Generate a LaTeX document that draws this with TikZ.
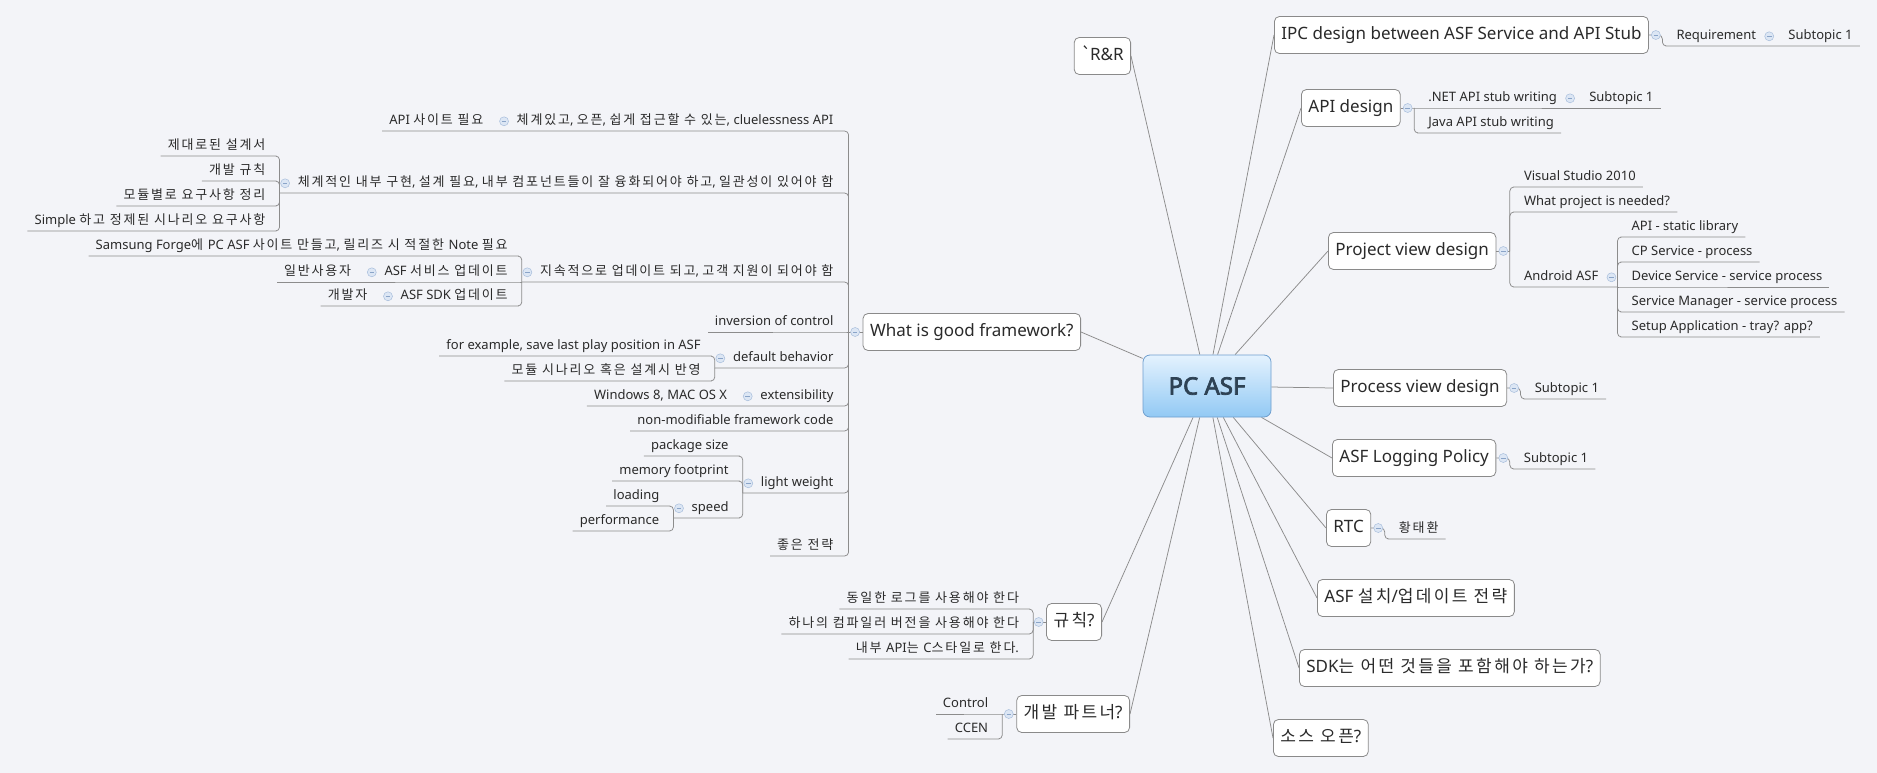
\documentclass[tikz,border=0pt]{standalone}
\usepackage{fontspec}
\setmainfont{Noto Sans CJK KR}
\newfontfamily\lafont{Noto Sans}[AutoFakeBold=3]
\newfontfamily\krfont{Noto Sans CJK KR}[LetterSpace=14]
% hangul in the CJK face, latin runs in Noto Sans
\newXeTeXintercharclass\krclass
\count255="AC00
\loop
    \XeTeXcharclass\count255=\krclass
    \ifnum\count255<"D7A3
    \advance\count255 by 1
\repeat
\XeTeXinterchartoks 0 \krclass = {\krfont}
\XeTeXinterchartoks 4095 \krclass = {\krfont}
\XeTeXinterchartoks \krclass 0 = {\lafont}
\XeTeXinterchartoks 4095 0 = {\lafont}
\XeTeXinterchartokenstate=1

\definecolor{bgcol}{HTML}{F3F4F8}
\definecolor{wirecol}{HTML}{8C8C8C}
\definecolor{boxline}{HTML}{8A8A8A}
\definecolor{txt}{HTML}{2A2A2A}
\definecolor{togfill}{HTML}{DCE6F4}
\definecolor{togline}{HTML}{A8BEDC}
\definecolor{togdash}{HTML}{8AA4C8}
\definecolor{pctop}{HTML}{E4F2FE}
\definecolor{pcbot}{HTML}{92C9F4}
\definecolor{pcline}{HTML}{6E9ECE}
\definecolor{pctext}{HTML}{2E4254}

\pgfdeclarelayer{bg}
\pgfdeclarelayer{wires}
\pgfsetlayers{bg,wires,main}

\tikzset{
    central/.style={draw=pcline, line width=0.8pt, rounded corners=7pt, top color=pctop, bottom color=pcbot,
        minimum width=128pt, minimum height=62pt, font=\fontsize{24}{28}\selectfont\bfseries, text=pctext},
    topic/.style={draw=boxline, fill=white, line width=0.8pt, rounded corners=5pt, minimum height=37pt,
        inner xsep=7pt, text height=12.5pt, text depth=3.5pt, font=\fontsize{17}{20}\selectfont, text=txt},
    leaf/.style={inner xsep=7pt, inner ysep=3pt, text height=10pt, text depth=3pt,
        font=\fontsize{13}{15}\selectfont, text=txt},
    leafr/.style={leaf, anchor=south west},
    leafl/.style={leaf, anchor=south east},
    fold/.style={circle, draw=togline, fill=togfill, line width=0.5pt, minimum size=9pt, inner sep=0pt,
        path picture={\draw[togdash, line width=0.7pt] ([xshift=-2.3pt]path picture bounding box.center)
            -- ([xshift=2.3pt]path picture bounding box.center);}},
    link/.style={draw=wirecol, line width=0.75pt},
    branch/.style={draw=wirecol, line width=0.75pt, rounded corners=4pt},
}

\begin{document}
\begin{tikzpicture}[x=1pt, y=-1pt]
    \useasboundingbox (0,0) rectangle (1877,773);
    \begin{pgfonlayer}{bg}
        \fill[bgcol] (0,0) rectangle (1877,773);
    \end{pgfonlayer}

    \node[central] (pc) at (1207,386) {PC ASF};

    % topics on the right
    \node[topic, anchor=west] (ipc) at (1274,35) {IPC design between ASF Service and API Stub};
    \node[topic, anchor=west] (api) at (1301,108) {API design};
    \node[topic, anchor=west] (pvd) at (1328,251) {Project view design};
    \node[topic, anchor=west] (proc) at (1333,388) {Process view design};
    \node[topic, anchor=west] (logp) at (1332,458) {ASF Logging Policy};
    \node[topic, anchor=west] (rtc) at (1326,528) {RTC};
    \node[topic, anchor=west] (inst) at (1317,598) {ASF 설치/업데이트 전략};
    \node[topic, anchor=west] (sdk) at (1299,668) {SDK는 어떤 것들을 포함해야 하는가?};
    \node[topic, anchor=west] (src) at (1273,738) {소스 오픈?};

    % topics on the left
    \node[topic, anchor=east] (rr) at (1131,56) {\textasciigrave\kern-1.5pt R\&R};
    \node[topic, anchor=east] (frame) at (1081,332) {What is good framework?};
    \node[topic, anchor=east] (rule) at (1102,622) {규칙?};
    \node[topic, anchor=east] (partner) at (1130,714) {개발 파트너?};

    \node[fold] (foldipc) at ([xshift=7pt]ipc.east) {};
    \coordinate (forkipc) at ([xshift=13.5pt]ipc.east);
    \node[fold] (foldapi) at ([xshift=7pt]api.east) {};
    \coordinate (forkapi) at ([xshift=13.5pt]api.east);
    \node[fold] (foldpvd) at ([xshift=7pt]pvd.east) {};
    \coordinate (forkpvd) at ([xshift=13.5pt]pvd.east);
    \node[fold] (foldproc) at ([xshift=7pt]proc.east) {};
    \coordinate (forkproc) at ([xshift=13.5pt]proc.east);
    \node[fold] (foldlogp) at ([xshift=7pt]logp.east) {};
    \coordinate (forklogp) at ([xshift=13.5pt]logp.east);
    \node[fold] (foldrtc) at ([xshift=7pt]rtc.east) {};
    \coordinate (forkrtc) at ([xshift=13.5pt]rtc.east);
    \node[fold] (foldframe) at ([xshift=-7.5pt]frame.west) {};
    \coordinate (forkframe) at ([xshift=-14pt]frame.west);
    \node[fold] (foldrule) at ([xshift=-7.5pt]rule.west) {};
    \coordinate (forkrule) at ([xshift=-13pt]rule.west);
    \node[fold] (foldpartner) at ([xshift=-7.5pt]partner.west) {};
    \coordinate (forkpartner) at ([xshift=-14pt]partner.west);

    % IPC / API
    \node[leafr] (req) at ([xshift=7pt]forkipc |- 0,46) {Requirement};
    \node[fold] (foldreq) at ([xshift=6pt]req.east) {};
    \node[leafr] (ipcsub) at ([xshift=18pt]req.south east) {Subtopic 1};
    \node[leafr] (dotnet) at ([xshift=7pt]forkapi |- 0,108) {.NET API stub writing};
    \node[fold] (folddotnet) at ([xshift=6pt]dotnet.east) {};
    \node[leafr] (dotnetsub) at ([xshift=18pt]dotnet.south east) {Subtopic 1};
    \node[leafr] (java) at ([xshift=7pt]forkapi |- 0,133) {Java API stub writing};

    % project view
    \node[leafr] (vs) at ([xshift=7pt]forkpvd |- 0,187) {Visual Studio 2010};
    \node[leafr] (needed) at ([xshift=7pt]forkpvd |- 0,212) {What project is needed?};
    \node[leafr] (android) at ([xshift=7pt]forkpvd |- 0,287) {Android ASF};
    \node[fold] (foldandroid) at ([xshift=6pt]android.east) {};
    \coordinate (forkandroid) at ([xshift=12pt]android.south east);
    \node[leafr] (staticlib) at ([xshift=7pt]forkandroid |- 0,237) {API - static library};
    \node[leafr] (cpsvc) at ([xshift=7pt]forkandroid |- 0,262) {CP Service - process};
    \node[leafr] (devsvc) at ([xshift=7pt]forkandroid |- 0,287) {Device Service - service process};
    \node[leafr] (svcmgr) at ([xshift=7pt]forkandroid |- 0,312) {Service Manager - service process};
    \node[leafr] (setupapp) at ([xshift=7pt]forkandroid |- 0,337) {Setup Application - tray? app?};

    \node[leafr] (procsub) at ([xshift=7pt]forkproc |- 0,399) {Subtopic 1};
    \node[leafr] (logsub) at ([xshift=7pt]forklogp |- 0,469) {Subtopic 1};
    \node[leafr] (rtcsub) at ([xshift=7pt]forkrtc |- 0,539) {황태환};

    % what is good framework?
    \node[leafl] (clue) at ([xshift=-8pt]forkframe |- 0,131) {체계있고, 오픈, 쉽게 접근할 수 있는, cluelessness API};
    \node[fold] (foldclue) at ([xshift=-5.5pt]clue.west) {};
    \node[leafl] (apisite) at ([xshift=-19pt]clue.south west) {API 사이트 필요};
    \node[leafl] (sys) at ([xshift=-8pt]forkframe |- 0,193) {체계적인 내부 구현, 설계 필요, 내부 컴포넌트들이 잘 융화되어야 하고, 일관성이 있어야 함};
    \node[fold] (foldsys) at ([xshift=-5.5pt]sys.west) {};
    \coordinate (forksys) at ([xshift=-11pt]sys.south west);
    \node[leafl] (rdoc) at ([xshift=-7pt]forksys |- 0,156) {제대로된 설계서};
    \node[leafl] (drule) at ([xshift=-7pt]forksys |- 0,181) {개발 규칙};
    \node[leafl] (modreq) at ([xshift=-7pt]forksys |- 0,206) {모듈별로 요구사항 정리};
    \node[leafl] (simple) at ([xshift=-7pt]forksys |- 0,231) {Simple 하고 정제된 시나리오 요구사항};
    \node[leafl] (upd) at ([xshift=-8pt]forkframe |- 0,282) {지속적으로 업데이트 되고, 고객 지원이 되어야 함};
    \node[fold] (foldupd) at ([xshift=-5.5pt]upd.west) {};
    \coordinate (forkupd) at ([xshift=-11pt]upd.south west);
    \node[leafl] (forge) at ([xshift=-7pt]forkupd |- 0,256) {Samsung Forge에 PC ASF 사이트 만들고, 릴리즈 시 적절한 Note 필요};
    \node[leafl] (svcupd) at ([xshift=-7pt]forkupd |- 0,282) {ASF 서비스 업데이트};
    \node[fold] (foldsvcupd) at ([xshift=-5.5pt]svcupd.west) {};
    \node[leafl] (enduser) at ([xshift=-19pt]svcupd.south west) {일반사용자};
    \node[leafl] (sdkupd) at ([xshift=-7pt]forkupd |- 0,306) {ASF SDK 업데이트};
    \node[fold] (foldsdkupd) at ([xshift=-5.5pt]sdkupd.west) {};
    \node[leafl] (developer) at ([xshift=-19pt]sdkupd.south west) {개발자};
    \node[leafl] (ioc) at ([xshift=-8pt]forkframe |- 0,332) {inversion of control};
    \node[leafl] (defb) at ([xshift=-8pt]forkframe |- 0,368) {default behavior};
    \node[fold] (folddefb) at ([xshift=-5.5pt]defb.west) {};
    \coordinate (forkdefb) at ([xshift=-11pt]defb.south west);
    \node[leafl] (fex) at ([xshift=-7pt]forkdefb |- 0,356) {for example, save last play position in ASF};
    \node[leafl] (modsc) at ([xshift=-7pt]forkdefb |- 0,381) {모듈 시나리오 혹은 설계시 반영};
    \node[leafl] (ext) at ([xshift=-8pt]forkframe |- 0,406) {extensibility};
    \node[fold] (foldext) at ([xshift=-5.5pt]ext.west) {};
    \node[leafl] (win) at ([xshift=-19pt]ext.south west) {Windows 8, MAC OS X};
    \node[leafl] (nonmod) at ([xshift=-8pt]forkframe |- 0,431) {non-modifiable framework code};
    \node[leafl] (lw) at ([xshift=-8pt]forkframe |- 0,493) {light weight};
    \node[fold] (foldlw) at ([xshift=-5.5pt]lw.west) {};
    \coordinate (forklw) at ([xshift=-11pt]lw.south west);
    \node[leafl] (pkg) at ([xshift=-7pt]forklw |- 0,456) {package size};
    \node[leafl] (mem) at ([xshift=-7pt]forklw |- 0,481) {memory footprint};
    \node[leafl] (spd) at ([xshift=-7pt]forklw |- 0,518) {speed};
    \node[fold] (foldspd) at ([xshift=-5.5pt]spd.west) {};
    \coordinate (forkspd) at ([xshift=-11pt]spd.south west);
    \node[leafl] (load) at ([xshift=-7pt]forkspd |- 0,506) {loading};
    \node[leafl] (perf) at ([xshift=-7pt]forkspd |- 0,531) {performance};
    \node[leafl] (good) at ([xshift=-8pt]forkframe |- 0,556) {좋은 전략};

    % rules and partners
    \node[leafl] (samelog) at ([xshift=-7pt]forkrule |- 0,609) {동일한 로그를 사용해야 한다};
    \node[leafl] (onecomp) at ([xshift=-7pt]forkrule |- 0,634) {하나의 컴파일러 버전을 사용해야 한다};
    \node[leafl] (capi) at ([xshift=-7pt]forkrule |- 0,659) {내부 API는 C스타일로 한다.};
    \node[leafl] (ctrl) at ([xshift=-7pt]forkpartner |- 0,714) {Control};
    \node[leafl] (ccen) at ([xshift=-7pt]forkpartner |- 0,739) {CCEN};

    \begin{pgfonlayer}{wires}
        \draw[link] (pc) -- (ipc.west);
        \draw[link] (pc) -- (api.west);
        \draw[link] (pc) -- (pvd.west);
        \draw[link] (pc) -- (proc.west);
        \draw[link] (pc) -- (logp.west);
        \draw[link] (pc) -- (rtc.west);
        \draw[link] (pc) -- (inst.west);
        \draw[link] (pc) -- (sdk.west);
        \draw[link] (pc) -- (src.west);
        \draw[link] (pc) -- (rr.east);
        \draw[link] (pc) -- (frame.east);
        \draw[link] (pc) -- (rule.east);
        \draw[link] (pc) -- (partner.east);

        \draw[branch] (ipc.east) -- (forkipc) |- (req.south west) -- (ipcsub.south east);
        \draw[branch] (api.east) -- (forkapi) -- (dotnet.south west) -- (dotnetsub.south east);
        \draw[branch] (forkapi) |- (java.south west) -- (java.south east);
        \draw[branch] (pvd.east) -- (forkpvd);
        \draw[branch] (forkpvd) |- (vs.south west) -- (vs.south east);
        \draw[branch] (forkpvd) |- (needed.south west) -- (needed.south east);
        \draw[branch] (forkpvd) |- (android.south west) -- (forkandroid);
        \draw[branch] (forkandroid) |- (staticlib.south west) -- (staticlib.south east);
        \draw[branch] (forkandroid) |- (cpsvc.south west) -- (cpsvc.south east);
        \draw[branch] (forkandroid) -- (devsvc.south west) -- (devsvc.south east);
        \draw[branch] (forkandroid) |- (svcmgr.south west) -- (svcmgr.south east);
        \draw[branch] (forkandroid) |- (setupapp.south west) -- (setupapp.south east);
        \draw[branch] (proc.east) -- (forkproc) |- (procsub.south west) -- (procsub.south east);
        \draw[branch] (logp.east) -- (forklogp) |- (logsub.south west) -- (logsub.south east);
        \draw[branch] (rtc.east) -- (forkrtc) |- (rtcsub.south west) -- (rtcsub.south east);

        \draw[branch] (frame.west) -- (forkframe);
        \draw[branch] (forkframe) |- (clue.south east) -- (apisite.south west);
        \draw[branch] (forkframe) |- (sys.south east) -- (forksys);
        \draw[branch] (forksys) |- (rdoc.south east) -- (rdoc.south west);
        \draw[branch] (forksys) |- (drule.south east) -- (drule.south west);
        \draw[branch] (forksys) |- (modreq.south east) -- (modreq.south west);
        \draw[branch] (forksys) |- (simple.south east) -- (simple.south west);
        \draw[branch] (forkframe) |- (upd.south east) -- (forkupd);
        \draw[branch] (forkupd) |- (forge.south east) -- (forge.south west);
        \draw[branch] (forkupd) -- (svcupd.south east) -- (enduser.south west);
        \draw[branch] (forkupd) |- (sdkupd.south east) -- (developer.south west);
        \draw[branch] (forkframe) -- (ioc.south east) -- (ioc.south west);
        \draw[branch] (forkframe) |- (defb.south east) -- (forkdefb);
        \draw[branch] (forkdefb) |- (fex.south east) -- (fex.south west);
        \draw[branch] (forkdefb) |- (modsc.south east) -- (modsc.south west);
        \draw[branch] (forkframe) |- (ext.south east) -- (win.south west);
        \draw[branch] (forkframe) |- (nonmod.south east) -- (nonmod.south west);
        \draw[branch] (forkframe) |- (lw.south east) -- (forklw);
        \draw[branch] (forklw) |- (pkg.south east) -- (pkg.south west);
        \draw[branch] (forklw) |- (mem.south east) -- (mem.south west);
        \draw[branch] (forklw) |- (spd.south east) -- (forkspd);
        \draw[branch] (forkspd) |- (load.south east) -- (load.south west);
        \draw[branch] (forkspd) |- (perf.south east) -- (perf.south west);
        \draw[branch] (forkframe) |- (good.south east) -- (good.south west);

        \draw[branch] (rule.west) -- (forkrule);
        \draw[branch] (forkrule) |- (samelog.south east) -- (samelog.south west);
        \draw[branch] (forkrule) |- (onecomp.south east) -- (onecomp.south west);
        \draw[branch] (forkrule) |- (capi.south east) -- (capi.south west);
        \draw[branch] (partner.west) -- (forkpartner) -- (ctrl.south east) -- (ctrl.south west);
        \draw[branch] (forkpartner) |- (ccen.south east) -- (ccen.south west);
    \end{pgfonlayer}
\end{tikzpicture}
\end{document}
